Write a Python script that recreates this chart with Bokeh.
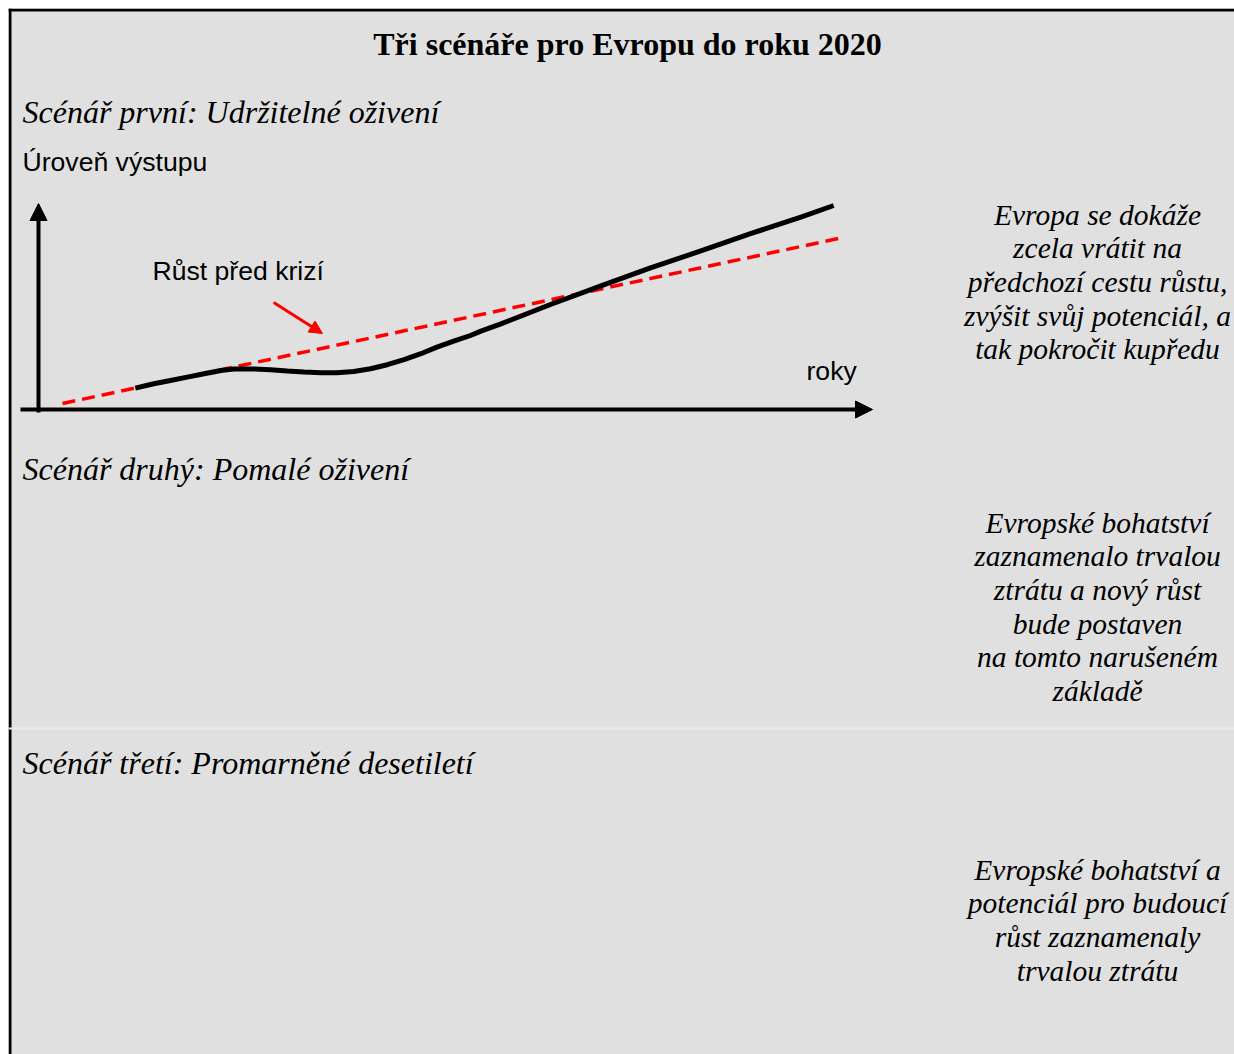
from bokeh.plotting import figure
from bokeh.models import Range1d, Label, Arrow, NormalHead, Span
from bokeh.embed import file_html
from bokeh.resources import INLINE

# ---------------- data ----------------
title_text = "Tři scénáře pro Evropu do roku 2020"
scenario_titles = [
    "Scénář první: Udržitelné oživení",
    "Scénář druhý: Pomalé oživení",
    "Scénář třetí: Promarněné desetiletí",
]
scenario_notes = [
    ["Evropa se dokáže", "zcela vrátit na", "předchozí cestu růstu,",
     "zvýšit svůj potenciál, a", "tak pokročit kupředu"],
    ["Evropské bohatství", "zaznamenalo trvalou", "ztrátu a nový růst",
     "bude postaven", "na tomto narušeném", "základě"],
    ["Evropské bohatství a", "potenciál pro budoucí", "růst zaznamenaly",
     "trvalou ztrátu"],
]
y_axis_label = "Úroveň výstupu"
x_axis_label = "roky"
trend_label = "Růst před krizí"

# actual output path (years, output level) - chart units
output_years = [1.21, 1.44, 1.65, 1.86, 2.07, 2.28, 2.44, 2.69, 2.90, 3.11,
                3.32, 3.53, 3.73, 3.94, 4.15, 4.36, 4.57, 4.78, 4.98, 5.19,
                5.40, 5.53, 5.78, 6.40, 7.03, 7.65, 8.28, 8.90, 9.53, 9.94]
output_level = [1.07, 1.29, 1.45, 1.62, 1.79, 1.95, 2.03, 2.03, 1.99, 1.92,
                1.87, 1.84, 1.84, 1.90, 2.04, 2.24, 2.49, 2.79, 3.12, 3.42,
                3.70, 3.92, 4.28, 5.25, 6.18, 7.08, 7.93, 8.79, 9.62, 10.20]
# pre-crisis growth trend
trend_years = [0.30, 10.00]
trend_level = [0.30, 8.55]

# axes extents (chart units)
axis_x = [-0.225, 10.425]
axis_y = [-0.15, 10.30]
# pointer from label to the trend
pointer_years = [2.94, 3.55]
pointer_level = [5.35, 3.80]

# ---------------- layout ----------------
CW, CH = 1234, 1054   # canvas
M = 8                 # white margin left/top of the grey panel
OX, OY = 38, 409      # pixel of chart origin
KX, KY = 80.0, 20.0   # pixels per chart unit

BG = "#e0e0e0"
SERIF = "Liberation Serif"
SANS = "Liberation Sans"

p = figure(width=CW, height=CH, output_backend="svg", toolbar_location=None,
           x_range=Range1d((M - OX) / KX, (CW - OX) / KX),
           y_range=Range1d((OY - CH) / KY, (OY - M) / KY),
           x_axis_type=None, y_axis_type=None,
           min_border_left=M, min_border_top=M,
           min_border_right=0, min_border_bottom=0,
           background_fill_color=BG, border_fill_color="white",
           outline_line_color=None)
p.grid.visible = False


def dx(px):
    return (px - OX) / KX


def dy(py):
    return (OY - py) / KY


def label(text, px, py, size, font, style="normal", align="left"):
    p.add_layout(Label(x=dx(px), y=dy(py), text=text, text_font=font,
                       text_font_size=f"{size}px", text_font_style=style,
                       text_align=align, text_baseline="alphabetic",
                       text_color="black"))


# panel borders (left, top) and faint separator
p.add_layout(Span(location=dx(M + 1.5), dimension="height",
                  line_color="black", line_width=3))
p.add_layout(Span(location=dy(M + 1.5), dimension="width",
                  line_color="black", line_width=3))
p.add_layout(Span(location=dy(728), dimension="width",
                  line_color="#ececec", line_width=2))

# chart
p.line(trend_years, trend_level, line_color="#ff0000", line_width=3.5,
       line_dash="13 7")
p.line(output_years, output_level, line_color="black", line_width=5,
       line_join="round")

p.add_layout(Arrow(end=NormalHead(size=17, fill_color="black",
                                  line_color="black"),
                   x_start=0, y_start=axis_y[0], x_end=0, y_end=axis_y[1],
                   line_width=4, line_color="black"))
p.add_layout(Arrow(end=NormalHead(size=17, fill_color="black",
                                  line_color="black"),
                   x_start=axis_x[0], y_start=0, x_end=axis_x[1], y_end=0,
                   line_width=4, line_color="black"))
p.add_layout(Arrow(end=NormalHead(size=13, fill_color="#ff0000",
                                  line_color="#ff0000"),
                   x_start=pointer_years[0], y_start=pointer_level[0],
                   x_end=pointer_years[1], y_end=pointer_level[1],
                   line_width=3, line_color="#ff0000"))

# texts
label(title_text, 627, 43, 32, SERIF, style="bold", align="center")
heading_pos = [111, 468, 762]
for t, b in zip(scenario_titles, heading_pos):
    label(t, 22, b, 32, SERIF, style="italic")

label(y_axis_label, 22, 161, 26.6, SANS)
label(trend_label, 152, 270, 26.6, SANS)
label(x_axis_label, 806, 370, 26.6, SANS)

note_first = [214, 522, 869]
for lines, b0 in zip(scenario_notes, note_first):
    for i, t in enumerate(lines):
        label(t, 1097, b0 + i * 33.7, 29.5, SERIF, style="italic",
              align="center")

open("out.html", "w").write(file_html(p, INLINE))
